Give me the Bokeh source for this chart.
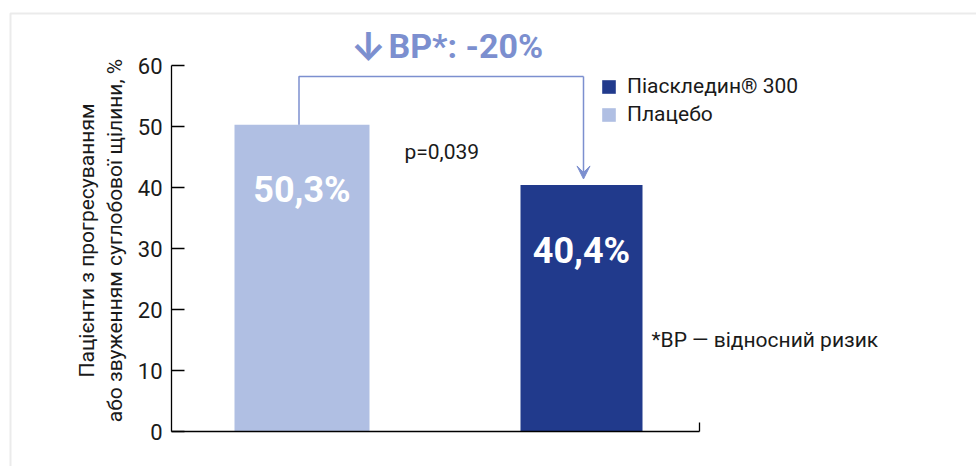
import math
from bokeh.plotting import figure
from bokeh.models import (Range1d, FixedTicker, LinearAxis, Label, Legend, LegendItem,
                          Arrow, VeeHead, BoxAnnotation, ColumnDataSource)
from bokeh.embed import file_html
from bokeh.resources import INLINE

# ---- data ----
groups = ["Плацебо", "Піаскледин® 300"]
values = [50.3, 40.4]
value_labels = ["50,3%", "40,4%"]
y_ticks = [0, 10, 20, 30, 40, 50, 60]
legend_order = ["Піаскледин® 300", "Плацебо"]
title_arrow = "↓"
title_text = "ВР*: -20%"
p_text = "p=0,039"
note_text = "*ВР — відносний ризик"
y_label_lines = ["Пацієнти з прогресуванням", "або звуженням суглобової щілини, %"]

# ---- style / layout ----
DARK = "#213a8c"
LIGHT = "#b0bfe3"
ACCENT = "#7c8fcf"
TEXT = "#1a1a1a"
FONT = "Roboto"
PX = 6.1                      # pixels per y unit
X0, Y0 = 171, 431             # pixel position of the axes origin
positions = [130.5, 410.0]    # bar centres along the x axis
widths = [135, 122]
bar_colors = [LIGHT, DARK]


def ypx(py):
    return (Y0 - py) / PX


p = figure(width=976, height=466, output_backend="svg", toolbar_location=None,
           x_range=Range1d(-X0, 976 - X0), y_range=Range1d(ypx(466), ypx(0)),
           min_border_left=0, min_border_right=0, min_border_top=0, min_border_bottom=0,
           x_axis_type=None, y_axis_type=None)
p.outline_line_color = None
p.background_fill_color = "white"
p.border_fill_color = "white"

yaxis = LinearAxis(ticker=FixedTicker(ticks=y_ticks), bounds=(0, 60), fixed_location=0,
                   major_tick_in=13, major_tick_out=0, minor_tick_line_color=None,
                   axis_line_color="black", axis_line_width=1.3,
                   major_tick_line_color="black", major_tick_line_width=1.3,
                   major_label_standoff=9, major_label_text_font=FONT,
                   major_label_text_font_size="22px", major_label_text_color=TEXT)
p.add_layout(yaxis, "left")

xaxis = LinearAxis(ticker=FixedTicker(ticks=[528]), bounds=(0, 528), fixed_location=0,
                   major_tick_in=9, major_tick_out=0, minor_tick_line_color=None,
                   axis_line_color="black", axis_line_width=1.3,
                   major_tick_line_color="black", major_tick_line_width=1.3,
                   major_label_overrides={528: ""})
p.add_layout(xaxis, "below")

src = ColumnDataSource(dict(x=positions, top=values, w=widths, color=bar_colors,
                            group=groups, lab=value_labels,
                            ly=[v - 10.75 for v in values]))
bars = p.vbar(x="x", top="top", bottom=0, width="w", fill_color="color",
              line_color=None, source=src)
p.text(x="x", y="ly", text="lab", source=src, text_align="center",
       text_baseline="middle", text_color="white", text_font_size="36px",
       text_font_style="bold", text_font={"value": FONT})

# bracket + arrow
top_y = ypx(76)
p.line(x=[positions[0] - 3, positions[0] - 3, positions[1] + 2],
       y=[values[0], top_y, top_y], line_color=ACCENT, line_width=1.5)
p.add_layout(Arrow(x_start=positions[1] + 2, y_start=top_y, x_end=positions[1] + 2,
                   y_end=values[1] + 1.0,
                   end=VeeHead(size=13, fill_color=ACCENT, line_color=ACCENT),
                   line_color=ACCENT, line_width=1.5))

# headline
p.add_layout(Label(x=368 - X0, y=ypx(46), text=title_arrow, text_align="center",
                   text_baseline="middle", text_color=ACCENT, text_font="Inter",
                   text_font_size="39px", text_font_style="bold"))
p.add_layout(Label(x=388 - X0, y=ypx(45), text=title_text, text_align="left",
                   text_baseline="middle", text_color=ACCENT, text_font=FONT,
                   text_font_size="34px", text_font_style="bold"))
p.add_layout(Label(x=404 - X0, y=ypx(151), text=p_text, text_baseline="middle",
                   text_color=TEXT, text_font=FONT, text_font_size="21px"))
p.add_layout(Label(x=651 - X0, y=ypx(339), text=note_text, text_baseline="middle",
                   text_color=TEXT, text_font=FONT, text_font_size="21px"))

# y axis title (two lines)
for xpx, line in zip([86, 114], y_label_lines):
    p.add_layout(Label(x=xpx - X0, y=ypx(240), text=line, angle=math.pi / 2,
                       text_align="center", text_baseline="middle", text_color=TEXT,
                       text_font=FONT, text_font_size="21px"))

# legend
items = [LegendItem(label=name, renderers=[bars], index=groups.index(name))
         for name in legend_order]
legend = Legend(items=items, location=(600, 340), border_line_color=None,
                background_fill_alpha=0, padding=0, margin=0, spacing=4,
                glyph_width=17, glyph_height=17, label_height=20, label_standoff=10,
                label_text_font=FONT, label_text_font_size="21px",
                label_text_color=TEXT)
p.add_layout(legend)

# outer frame
p.add_layout(BoxAnnotation(left=10 - X0, right=1100, top=ypx(13), bottom=ypx(600),
                           fill_alpha=0, line_color="#bdbdbd", line_width=2))

open("out.html", "w").write(file_html(p, INLINE))
